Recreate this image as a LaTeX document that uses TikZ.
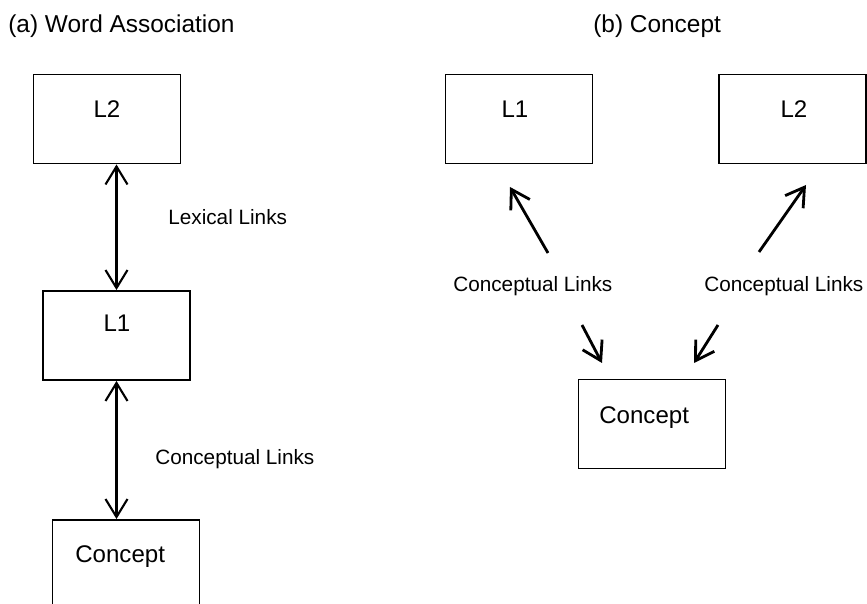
\documentclass[tikz,border=0pt]{standalone}
\usepackage{fontspec}
\setmainfont{Liberation Sans}
\usetikzlibrary{arrows.meta}
\tikzset{>={Straight Barb[length=3.6mm,width=4.4mm]}}
\tikzstyle{wordbox}=[rectangle,draw=black,line width=1.1pt,inner sep=0pt,minimum width=2.94cm,minimum height=1.78cm]
\tikzstyle{boxtext}=[inner sep=0pt,anchor=base,font=\fontsize{13.7}{16}\selectfont]
\tikzstyle{linktext}=[inner sep=0pt,anchor=base west,font=\fontsize{11.8}{14}\selectfont]
\tikzstyle{heading}=[inner sep=0pt,anchor=base west,font=\fontsize{13.9}{16}\selectfont]
\tikzstyle{linkarrow}=[->,line width=1.6pt]

\begin{document}
\begin{tikzpicture}[x=0.02cm,y=-0.02cm]
    \useasboundingbox (0,0) rectangle (867,604);
    \clip (0,0) rectangle (867,604);

    % (a) word association
    \node[heading] (ta) at (8,33) {(a) Word Association};

    \node[wordbox] (l2a) at (107,119) {};
    \node[wordbox] (l1a) at (116.5,335.5) {};
    \node[wordbox] (cpa) at (126,564.5) {};

    \node[boxtext] (l2atxt) at (107,118) {L2};
    \node[boxtext] (l1atxt) at (117,332) {L1};
    \node[boxtext,anchor=base west] (cpatxt) at (75,563) {Concept};

    \draw[<->,line width=1.2pt] (l2a.south -| l1a.north) -- (l1a.north);
    \draw[<->,line width=1.2pt] (l1a.south) -- (l1a.south |- cpa.north);

    \node[linktext] (lexa) at (168,225) {Lexical Links};
    \node[linktext] (cla) at (155,465) {Conceptual Links};

    % (b) concept
    \node[heading] (tb) at (593,33) {(b) Concept};

    \node[wordbox] (l1b) at (519,119) {};
    \node[wordbox] (l2b) at (792.5,119) {};
    \node[wordbox] (cpb) at (652,424) {};

    \node[boxtext] (l1btxt) at (515,118) {L1};
    \node[boxtext] (l2btxt) at (794,118) {L2};
    \node[boxtext,anchor=base west] (cpbtxt) at (599,424) {Concept};

    \node[linktext] (clb1) at (453,292) {Conceptual Links};
    \node[linktext] (clb2) at (704,292) {Conceptual Links};

    \coordinate (up1s) at (548,253);
    \coordinate (up1e) at (510,187);
    \coordinate (up2s) at (759,252);
    \coordinate (up2e) at (806,185);
    \coordinate (dn1s) at (582,325);
    \coordinate (dn1e) at (602,363);
    \coordinate (dn2s) at (718,325);
    \coordinate (dn2e) at (694,363);

    \draw[linkarrow] (up1s) -- (up1e);
    \draw[linkarrow] (up2s) -- (up2e);
    \draw[linkarrow] (dn1s) -- (dn1e);
    \draw[linkarrow] (dn2s) -- (dn2e);
\end{tikzpicture}
\end{document}
